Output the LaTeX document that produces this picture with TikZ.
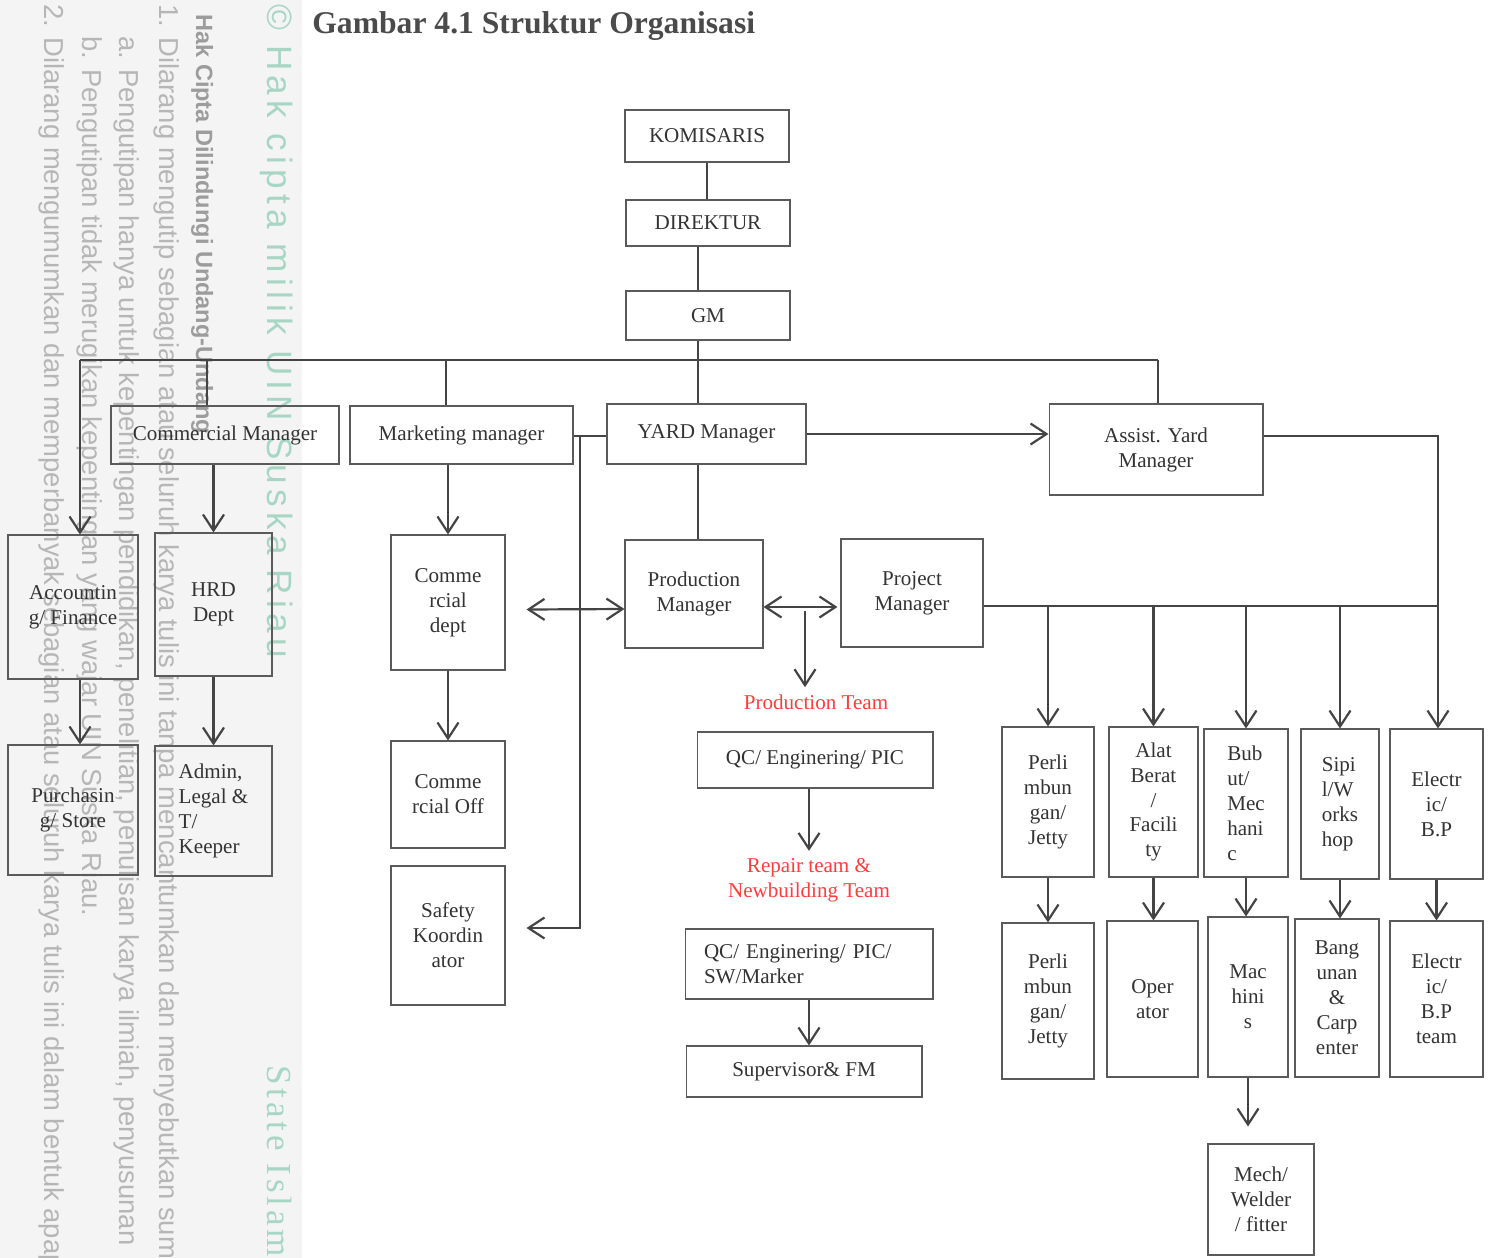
\documentclass[tikz,border=0pt]{standalone}
\usepackage{fontspec}
\setmainfont{Liberation Serif}
\newfontfamily\wmfont{Liberation Sans}
\usetikzlibrary{arrows.meta,calc,positioning}
\definecolor{Ink}{HTML}{333333}
\definecolor{Heading}{HTML}{4A4A4A}
\definecolor{Frame}{HTML}{5A5A5A}
\definecolor{Wire}{HTML}{444444}
\definecolor{Alert}{HTML}{FF3C3C}
\definecolor{Strip}{HTML}{F4F4F4}
\definecolor{WmGray}{HTML}{B6B6B6}
\definecolor{WmDark}{HTML}{9C9C9C}
\definecolor{WmTeal}{HTML}{A8D6C4}

\begin{document}
\begin{tikzpicture}[x=0.02cm,y=-0.02cm,
  box/.style={draw=Frame,line width=0.6pt,align=center,inner sep=2pt,text=Ink,font=\fontsize{12}{14.2}\selectfont},
  link/.style={draw=Wire,line width=1.25pt},
  arr/.style={link,-{Straight Barb[length=3.2mm,width=4.2mm,line width=1.25pt]}},
  both/.style={link,{Straight Barb[length=3.2mm,width=4.2mm,line width=1.25pt]}-{Straight Barb[length=3.2mm,width=4.2mm,line width=1.25pt]}},
  team/.style={text=Alert,align=center,inner sep=4pt,font=\fontsize{12}{14.2}\selectfont},
  wm/.style={rotate=-90,anchor=base west,inner sep=0pt,text=WmGray,font=\wmfont\fontsize{15.6}{17}\selectfont},
  wmbig/.style={rotate=-90,anchor=base west,inner sep=0pt,text=WmTeal}
]
\useasboundingbox (0,0) rectangle (1489,1258);
\fill[white] (0,0) rectangle (1489,1258);
\fill[Strip] (0,0) rectangle (302,1258);
\begin{scope}
\clip (0,0) rectangle (302,1258);
\node[wm] (wm5) at (45,4) {2. Dilarang mengumumkan dan memperbanyak sebagian atau seluruh karya tulis ini dalam bentuk apapun};
\node[wm] (wm4) at (82,36) {b. Pengutipan tidak merugikan kepentingan yang wajar UIN Suska Riau.};
\node[wm] (wm3) at (119,36) {a. Pengutipan hanya untuk kepentingan pendidikan, penelitian, penulisan karya ilmiah, penyusunan};
\node[wm] (wm2) at (159,4) {1. Dilarang mengutip sebagian atau seluruh karya tulis ini tanpa mencantumkan dan menyebutkan sumber};
\node[wm,text=WmDark,font=\wmfont\bfseries\fontsize{13.4}{15}\selectfont] (wm1) at (196,14) {Hak Cipta Dilindungi Undang-Undang};
\node[wmbig,font=\wmfont\fontsize{20}{22}\selectfont\addfontfeature{LetterSpace=15}] (wm0) at (267,4) {\textcopyright\ Hak cipta milik UIN Suska Riau};
\node[wmbig,font=\fontsize{20}{22}\selectfont\addfontfeature{LetterSpace=11}] (wm6) at (267,1065) {State Islam};
\end{scope}

\node[anchor=base west,inner sep=0pt,text=Heading,font=\fontsize{18}{20}\selectfont\bfseries] (title) at (312,33) {Gambar 4.1 Struktur Organisasi};

\node[box,minimum width=3.28cm,minimum height=1.04cm] (kom) at (707,136) {KOMISARIS};
\node[box,minimum width=3.28cm,minimum height=0.92cm] (dir) at (708,223) {DIREKTUR};
\node[box,minimum width=3.28cm,minimum height=0.98cm] (gm) at (708,315.5) {GM};

\node[box,minimum width=4.56cm,minimum height=1.16cm] (comm) at (225,435) {Commercial Manager};
\node[box,minimum width=4.46cm,minimum height=1.16cm] (mkt) at (461.5,435) {Marketing manager};
\node[box,minimum width=3.98cm,minimum height=1.2cm] (yard) at (706.5,434) {YARD Manager};
\node[box,minimum width=4.28cm,minimum height=1.82cm] (assist) at (1156,449.5) {Assist. Yard\\Manager};

\node[box,minimum width=2.6cm,minimum height=2.88cm] (acc) at (73,607) {Accountin\\g/ Finance};
\node[box,minimum width=2.34cm,minimum height=2.86cm] (hrd) at (213.5,604.5) {HRD\\Dept};
\node[box,minimum width=2.6cm,minimum height=2.6cm] (pur) at (73,810) {Purchasin\\g/ Store};
\node[box,minimum width=2.34cm,minimum height=2.6cm,align=left] (adm) at (213.5,811) {Admin,\\Legal \&\\T/\\Keeper};

\node[box,minimum width=2.28cm,minimum height=2.7cm] (cdept) at (448,602.5) {Comme\\rcial\\dept};
\node[box,minimum width=2.28cm,minimum height=2.14cm] (coff) at (448,794.5) {Comme\\rcial Off};
\node[box,minimum width=2.28cm,minimum height=2.78cm] (safety) at (448,935.5) {Safety\\Koordin\\ator};

\node[box,minimum width=2.76cm,minimum height=2.16cm] (prod) at (694,594) {Production\\Manager};
\node[box,minimum width=2.84cm,minimum height=2.16cm] (proj) at (912,593) {Project\\Manager};
\node[team] (prodteam) at (816,702) {Production Team};
\node[box,minimum width=4.72cm,minimum height=1.12cm] (qc1) at (815,760) {QC/ Enginering/ PIC};
\node[team] (repteam) at (809,880) {Repair team \&\\Newbuilding Team};
\node[box,minimum width=4.96cm,minimum height=1.4cm,text width=4.2cm,align=left] (qc2) at (809,964) {QC/ Enginering/ PIC/\\SW/Marker};
\node[box,minimum width=4.72cm,minimum height=1.02cm] (sup) at (804,1071.5) {Supervisor\& FM};

\node[box,minimum width=1.84cm,minimum height=3cm] (perl1) at (1048,802) {Perli\\mbun\\gan/\\Jetty};
\node[box,minimum width=1.78cm,minimum height=3cm] (alat) at (1153.5,802) {Alat\\Berat\\/\\Facili\\ty};
\node[box,minimum width=1.68cm,minimum height=2.96cm,align=left] (bubut) at (1246,803) {Bub\\ut/\\Mec\\hani\\c};
\node[box,minimum width=1.56cm,minimum height=3cm,align=left] (sipil) at (1340,804) {Sipi\\l/W\\orks\\hop};
\node[box,minimum width=1.86cm,minimum height=3cm] (elec1) at (1436.5,804) {Electr\\ic/\\B.P};
\node[box,minimum width=1.84cm,minimum height=3.12cm] (perl2) at (1048,1001) {Perli\\mbun\\gan/\\Jetty};
\node[box,minimum width=1.82cm,minimum height=3.12cm] (oper) at (1152.5,999) {Oper\\ator};
\node[box,minimum width=1.6cm,minimum height=3.2cm] (mach) at (1248,997) {Mac\\hini\\s};
\node[box,minimum width=1.68cm,minimum height=3.16cm] (bang) at (1337,998) {Bang\\unan\\\&\\Carp\\enter};
\node[box,minimum width=1.86cm,minimum height=3.12cm] (elec2) at (1436.5,999) {Electr\\ic/\\B.P\\team};
\node[box,minimum width=2.12cm,minimum height=2.22cm] (mech) at (1261,1199.5) {Mech/\\Welder\\/ fitter};

\coordinate (busL) at (80,360);
\coordinate (busR) at (1158,360);
\coordinate (jComm) at (207,360);
\coordinate (jMkt) at (446,360);
\coordinate (jGM) at (698,360);
\coordinate (jMk) at (580,436);
\coordinate (jProd) at (805,611);
\coordinate (jAsR) at (1438,436);
\coordinate (jRow) at (1438,606);

\draw[link] (kom.south) -- (kom.south |- dir.north);
\draw[link] (jGM |- dir.south) -- (jGM |- gm.north);
\draw[link] (busL) -- (busR);
\draw[link] (jGM |- gm.south) -- (jGM |- yard.north);
\draw[link] (jComm) -- (jComm |- comm.north);
\draw[link] (jMkt) -- (jMkt |- mkt.north);
\draw[link] (busR) -- (busR |- assist.north);
\draw[arr] (busL) -- (busL |- acc.north);
\draw[arr] (busL |- acc.south) -- (busL |- pur.north);
\draw[arr] (comm.south -| hrd.north) -- (hrd.north);
\draw[arr] (hrd.south) -- (adm.north);
\draw[arr] (mkt.south -| cdept.north) -- (cdept.north);
\draw[arr] (cdept.south) -- (coff.north);
\draw[link] (mkt.east |- jMk) -- (yard.west |- jMk);
\draw[arr] (jMk) |- ($(safety.east)+(21,-7.5)$);
\draw[both] ($(cdept.east)+(21,7)$) -- ($(prod.west)+(0,15)$);
\draw[link] (jGM |- yard.south) -- (jGM |- prod.north);
\draw[arr] (yard.east) -- (yard.east -| assist.west);
\draw[both] ($(prod.east)+(0,13)$) -- ($(proj.west)+(-3,14)$);
\draw[arr] (jProd) -- (jProd |- prodteam.north);
\draw[arr] (qc1.south -| repteam.north) -- (repteam.north);
\draw[arr] (qc2.south) -- (qc2.south |- sup.north);
\draw[arr] (assist.east |- jAsR) -- (jAsR) -- (jAsR |- elec1.north);
\draw[link] (proj.east |- jRow) -- (jRow);
\foreach \n in {perl1,alat,bubut,sipil}
  \draw[arr] (jRow -| \n.north) -- (\n.north);
\foreach \a/\b in {perl1/perl2,alat/oper,bubut/mach,sipil/bang,elec1/elec2}
  \draw[arr] (\a.south) -- (\a.south |- \b.north);
\draw[arr,shorten >=0.34cm] (mach.south) -- (mach.south |- mech.north);
\end{tikzpicture}
\end{document}
